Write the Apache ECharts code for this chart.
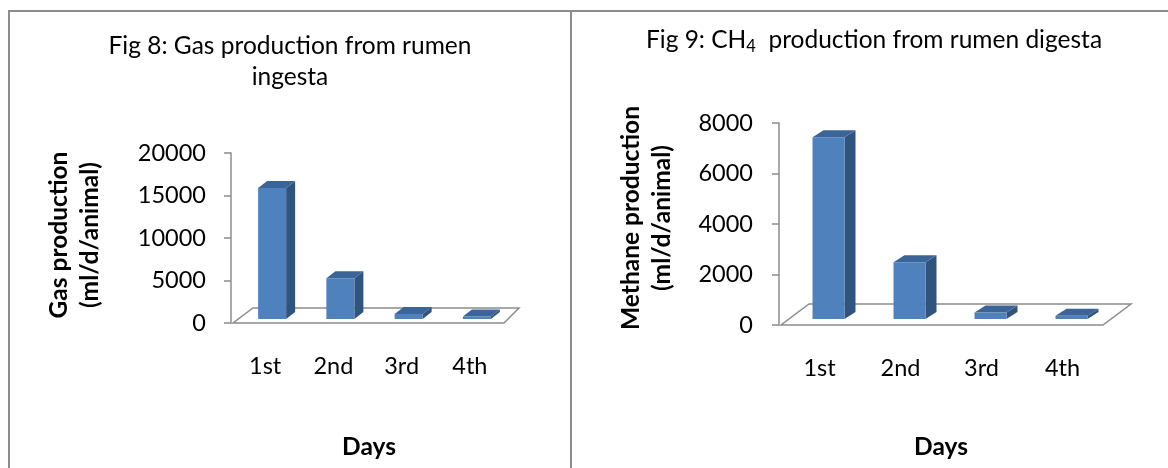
<!DOCTYPE html>
<html>
<head>
<meta charset="utf-8">
<script src="https://cdn.jsdelivr.net/npm/echarts@6/dist/echarts.min.js"></script>
<style>
  html, body { margin: 0; padding: 0; background: #ffffff; }
  #chart { width: 1168px; height: 468px; }
</style>
</head>
<body>
<div id="chart"></div>
<script>
// Daily gas and methane yields from rumen material
const days = ['1st', '2nd', '3rd', '4th'];
const gasProduction = [15400, 4800, 600, 300];
const methaneProduction = [7200, 2250, 260, 130];
const gasTicks = [0, 5000, 10000, 15000, 20000];
const methaneTicks = [0, 2000, 4000, 6000, 8000];

const FONT = 'Lato, "Open Sans", sans-serif';
const GREY = '#8c8c8c';
const FRONT = '#4f81bd';
const SIDE = '#31547f';
const TOP = '#3b6598';
const TICK_SIZE = 23.5;
const TITLE_SIZE = 24.5;

// Geometry of each panel: plot box, floor depth, column block shape
const panels = [
  {
    grid: { left: 231, top: 153, width: 273, height: 170 },
    floor: { backLeft: [20, -15], backRight: [15, -15] },
    col: { dx: 7, dy: 4, w: 28, sx: 9, sy: 7 },
    labelMargin: 25
  },
  {
    grid: { left: 779, top: 123, width: 324, height: 202 },
    floor: { backLeft: [28, -21], backRight: [28, -21] },
    col: { dx: 9, dy: 6, w: 32, sx: 11, sy: 7 },
    labelMargin: 26
  }
];

function columnRenderer(c) {
  return function (params, api) {
    const i = api.value(0);
    const top = api.coord([i, api.value(1)]);
    const base = api.coord([i, 0]);
    const x0 = top[0] + c.dx - c.w / 2;
    const x1 = x0 + c.w;
    const yT = top[1] - c.dy;
    const yB = base[1] - c.dy;
    return {
      type: 'group',
      children: [
        { type: 'polygon', shape: { points: [[x1, yT], [x1 + c.sx, yT - c.sy], [x1 + c.sx, yB - c.sy], [x1, yB]] },
          style: { fill: SIDE } },
        { type: 'polygon', shape: { points: [[x0, yT], [x1, yT], [x1 + c.sx, yT - c.sy], [x0 + c.sx, yT - c.sy]] },
          style: { fill: TOP } },
        { type: 'rect', shape: { x: x0, y: yT, width: c.w, height: yB - yT },
          style: { fill: FRONT } }
      ]
    };
  };
}

function floorRenderer(f) {
  return function (params) {
    const cs = params.coordSys;
    const yF = cs.y + cs.height;
    const xL = cs.x + 2, xR = cs.x + cs.width;
    return {
      type: 'polygon',
      shape: { points: [[xL, yF], [xR, yF], [xR + f.backRight[0], yF + f.backRight[1]], [xL + f.backLeft[0], yF + f.backLeft[1]]] },
      style: { fill: '#ffffff', stroke: GREY, lineWidth: 1.5 }
    };
  };
}

function valueAxis(gridIndex, ticks, margin) {
  return {
    type: 'value', gridIndex: gridIndex,
    min: ticks[0], max: ticks[ticks.length - 1], interval: ticks[1] - ticks[0],
    axisLine: { show: true, lineStyle: { color: GREY, width: 1.5 } },
    axisTick: { show: true, length: 7, lineStyle: { color: GREY, width: 1.5 } },
    splitLine: { show: false },
    axisLabel: { margin: margin, color: '#000', fontFamily: FONT, fontSize: TICK_SIZE,
      formatter: function (v) { return String(v); } }
  };
}

function categoryAxis(gridIndex) {
  return {
    type: 'category', gridIndex: gridIndex, data: days,
    axisLine: { show: false }, axisTick: { show: false },
    axisLabel: { margin: 31, color: '#000', fontFamily: FONT, fontSize: TICK_SIZE }
  };
}

const seriesData = [gasProduction, methaneProduction];
const series = [];
panels.forEach(function (p, k) {
  series.push({
    type: 'custom', xAxisIndex: k, yAxisIndex: k, z: 1, silent: true,
    data: [[0, 0]], renderItem: floorRenderer(p.floor)
  });
  series.push({
    type: 'custom', xAxisIndex: k, yAxisIndex: k, z: 3,
    encode: { x: 0, y: 1 },
    data: days.map(function (d, i) { return [i, seriesData[k][i]]; }),
    renderItem: columnRenderer(p.col)
  });
});

const textStyle = { fill: '#000', fontFamily: FONT };

const option = {
  animation: false,
  grid: panels.map(function (p) { return Object.assign({ containLabel: false }, p.grid); }),
  xAxis: [categoryAxis(0), categoryAxis(1)],
  yAxis: [valueAxis(0, gasTicks, panels[0].labelMargin), valueAxis(1, methaneTicks, panels[1].labelMargin)],
  series: series,
  graphic: [
    // panel frames
    { type: 'polyline', shape: { points: [[9, 468], [9, 11], [1168, 11]] }, style: { stroke: GREY, lineWidth: 2, fill: null } },
    { type: 'line', shape: { x1: 571, y1: 11, x2: 571, y2: 468 }, style: { stroke: GREY, lineWidth: 2 } },
    // figure titles
    { type: 'text', x: 290, y: 31,
      style: Object.assign({ text: 'Fig 8: Gas production from rumen\ningesta', fontSize: TITLE_SIZE, lineHeight: 31,
        align: 'center', verticalAlign: 'top' }, textStyle) },
    { type: 'text', x: 874, y: 40,
      style: Object.assign({ text: '{n|Fig 9: CH}{s|4}{n|  production from rumen digesta}',
        align: 'center', verticalAlign: 'middle',
        rich: {
          n: { fontSize: TITLE_SIZE, fontFamily: FONT, color: '#000', lineHeight: 30 },
          s: { fontSize: 16.5, fontFamily: FONT, color: '#000', lineHeight: 16, verticalAlign: 'bottom' }
        } }, textStyle) },
    // value axis titles
    { type: 'text', x: 75, y: 235, rotation: Math.PI / 2,
      style: Object.assign({ text: 'Gas production\n(ml/d/animal)', fontSize: TITLE_SIZE, fontWeight: 'bold', lineHeight: 31,
        align: 'center', verticalAlign: 'middle' }, textStyle) },
    { type: 'text', x: 647, y: 218, rotation: Math.PI / 2,
      style: Object.assign({ text: 'Methane production\n(ml/d/animal)', fontSize: TITLE_SIZE, fontWeight: 'bold', lineHeight: 31,
        align: 'center', verticalAlign: 'middle' }, textStyle) },
    // category axis titles
    { type: 'text', x: 369, y: 447,
      style: Object.assign({ text: 'Days', fontSize: TITLE_SIZE, fontWeight: 'bold', align: 'center', verticalAlign: 'middle' }, textStyle) },
    { type: 'text', x: 941, y: 447,
      style: Object.assign({ text: 'Days', fontSize: TITLE_SIZE, fontWeight: 'bold', align: 'center', verticalAlign: 'middle' }, textStyle) }
  ]
};

const chart = echarts.init(document.getElementById('chart'), null, { renderer: 'canvas' });
chart.setOption(option);
</script>
</body>
</html>
